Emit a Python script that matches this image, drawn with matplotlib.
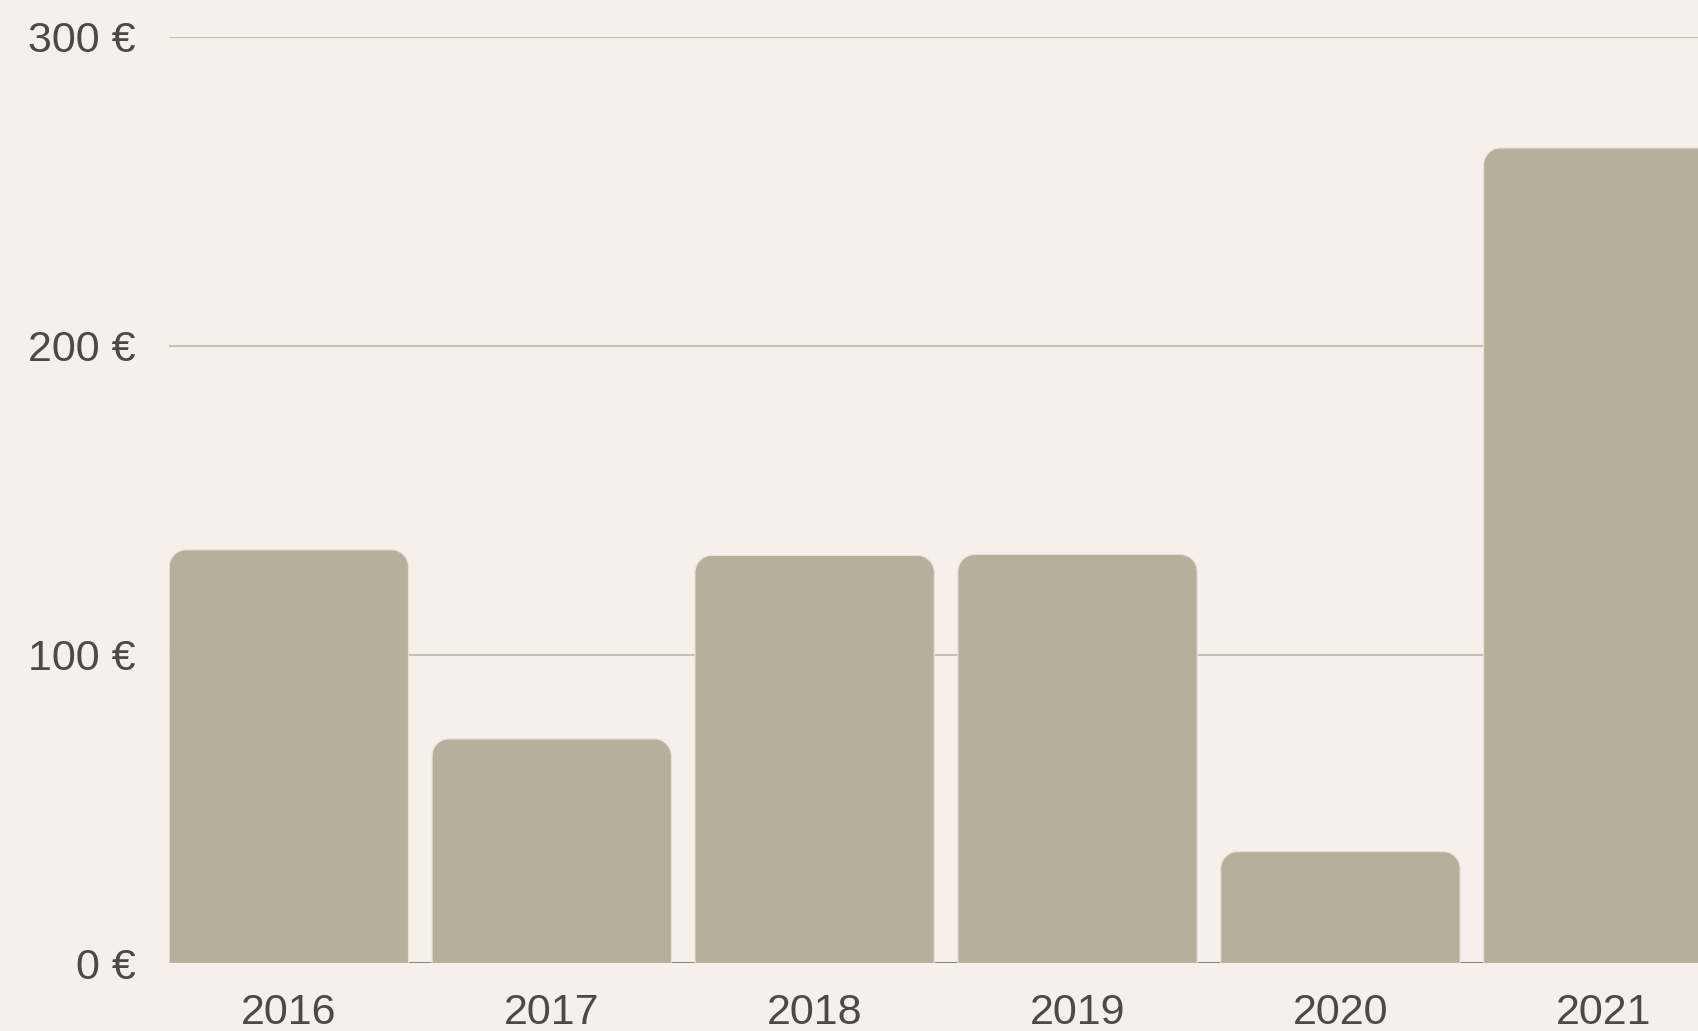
import matplotlib
matplotlib.use("Agg")
import matplotlib.pyplot as plt
from matplotlib.path import Path
from matplotlib.patches import PathPatch

annees = ["2016", "2017", "2018", "2019", "2020", "2021"]
montants = [133.9, 72.7, 132.1, 132.4, 36.2, 264.0]
graduations = [0, 100, 200, 300]

FOND = "#f6efea"
BARRE = "#b6af9c"
TEXTE = "#4d4a45"
GRILLE = "#c6c0b8"

plt.rcParams["font.family"] = ["Liberation Sans", "DejaVu Sans"]

fig = plt.figure(figsize=(16.99, 10.31), dpi=100, facecolor=FOND)
ax = fig.add_axes([0.0996, 0.0655, 0.9004, 0.8988])
ax.set_facecolor(FOND)

largeur = 0.91
x = list(range(len(annees)))
barres = ax.bar(x, montants, width=largeur, color=BARRE)
ax.set_xlim(-largeur / 2, 5.364)
ax.set_ylim(0, 300)

# coins arrondis en haut : rayon en pixels converti en unités de données
fig.canvas.draw()
px_x = ax.bbox.width / (ax.get_xlim()[1] - ax.get_xlim()[0])
px_y = ax.bbox.height / (ax.get_ylim()[1] - ax.get_ylim()[0])
r = 17
rx, ry = r / px_x, r / px_y
k = 0.5523
for b in barres:
    x0, w, h = b.get_x(), b.get_width(), b.get_height()
    x1 = x0 + w
    verts = [
        (x0, 0), (x0, h - ry),
        (x0, h - ry + k * ry), (x0 + rx - k * rx, h), (x0 + rx, h),
        (x1 - rx, h),
        (x1 - rx + k * rx, h), (x1, h - ry + k * ry), (x1, h - ry),
        (x1, 0), (x0, 0),
    ]
    codes = [Path.MOVETO, Path.LINETO,
             Path.CURVE4, Path.CURVE4, Path.CURVE4,
             Path.LINETO,
             Path.CURVE4, Path.CURVE4, Path.CURVE4,
             Path.LINETO, Path.CLOSEPOLY]
    ax.add_patch(PathPatch(Path(verts, codes), facecolor=BARRE,
                           edgecolor="#e6e0d7", lw=0.8, zorder=3))
    b.remove()

for v in graduations[1:]:
    ax.axhline(v, color=GRILLE, lw=1.5, zorder=1)
ax.axhline(0, color="#8a857e", lw=1.5, zorder=2)

for s in ax.spines.values():
    s.set_visible(False)

ax.set_yticks(graduations)
ax.set_yticklabels([f"{v} €" for v in graduations])
ax.set_xticks(x)
ax.set_xticklabels(annees)
ax.tick_params(axis="y", length=0, pad=24, labelsize=31, labelcolor=TEXTE)
ax.tick_params(axis="x", length=0, pad=21.5, labelsize=31, labelcolor=TEXTE)

fig.savefig("out.png", dpi=100, facecolor=FOND)
